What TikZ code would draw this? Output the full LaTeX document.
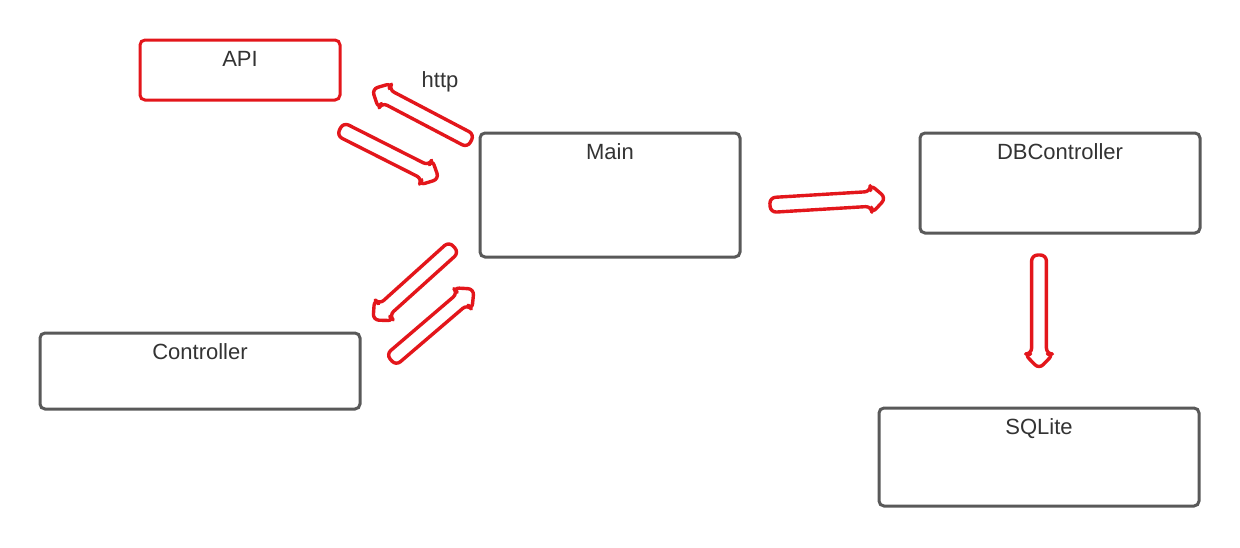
\documentclass[tikz,border=0pt]{standalone}
\usepackage{fontspec}
\setmainfont{Liberation Sans}
\usetikzlibrary{calc}
\definecolor{boxgray}{HTML}{595959}
\definecolor{flowred}{HTML}{E3161B}
\definecolor{txt}{HTML}{333333}

\tikzset{
  box/.style={draw=boxgray, line width=1.5pt, rounded corners=2.5pt, fill=white, inner sep=0pt},
  redbox/.style={box, draw=flowred},
  boxlabel/.style={anchor=north, inner sep=0pt, yshift=-6pt, font=\fontsize{11}{13}\selectfont, text=txt},
  flowarrow/.style={draw=flowred, line width=1.7pt, rounded corners=3pt, line join=round, fill=white},
}

% outlined block arrow from tail #1 to tip #2; #3 names its head base
\newcommand\blockarrow[3]{%
  \coordinate (#3-h) at ($(#2)!7.5pt!(#1)$);
  \draw[flowarrow]
    ($(#1)!3.7pt!90:(#2)$) -- ($(#3-h)!3.7pt!90:(#2)$) -- ($(#3-h)!7.2pt!90:(#2)$)
    -- (#2)
    -- ($(#3-h)!7.2pt!-90:(#2)$) -- ($(#3-h)!3.7pt!-90:(#2)$) -- ($(#1)!3.7pt!-90:(#2)$)
    -- cycle;
}

\begin{document}
\begin{tikzpicture}[x=0.5pt, y=-0.5pt]
  \useasboundingbox (0,0) rectangle (1240,547);

  % components
  \node[redbox, minimum width=100pt, minimum height=30pt,
        label={[boxlabel]north:API}] (api) at (240,70) {};
  \node[box, minimum width=130pt, minimum height=62pt,
        label={[boxlabel]north:Main}] (main) at (610,195) {};
  \node[box, minimum width=140pt, minimum height=50pt,
        label={[boxlabel]north:DBController}] (db) at (1060,183) {};
  \node[box, minimum width=160pt, minimum height=38pt,
        label={[boxlabel]north:Controller}] (ctrl) at (200,371) {};
  \node[box, minimum width=160pt, minimum height=49pt,
        label={[boxlabel]north:SQLite}] (sqlite) at (1039,457) {};

  \node[font=\fontsize{11}{13}\selectfont, text=txt, inner sep=0pt] (http) at (440,82) {http};

  % arrow ends
  \coordinate (mainApiT) at (471,141);  \coordinate (mainApiH) at (372,89);
  \coordinate (apiMainT) at (340,129);  \coordinate (apiMainH) at (439,179);
  \coordinate (mainCtlT) at (454,247);  \coordinate (mainCtlH) at (373,320);
  \coordinate (ctlMainT) at (391,360);  \coordinate (ctlMainH) at (474,289);
  \coordinate (mainDbT)  at (770,205);  \coordinate (mainDbH)  at (886,198);
  \coordinate (dbSqlT)   at (1039,255); \coordinate (dbSqlH)   at (1039,369);

  \blockarrow{mainApiT}{mainApiH}{a1}
  \blockarrow{apiMainT}{apiMainH}{a2}
  \blockarrow{mainCtlT}{mainCtlH}{a3}
  \blockarrow{ctlMainT}{ctlMainH}{a4}
  \blockarrow{mainDbT}{mainDbH}{a5}
  \blockarrow{dbSqlT}{dbSqlH}{a6}
\end{tikzpicture}
\end{document}
